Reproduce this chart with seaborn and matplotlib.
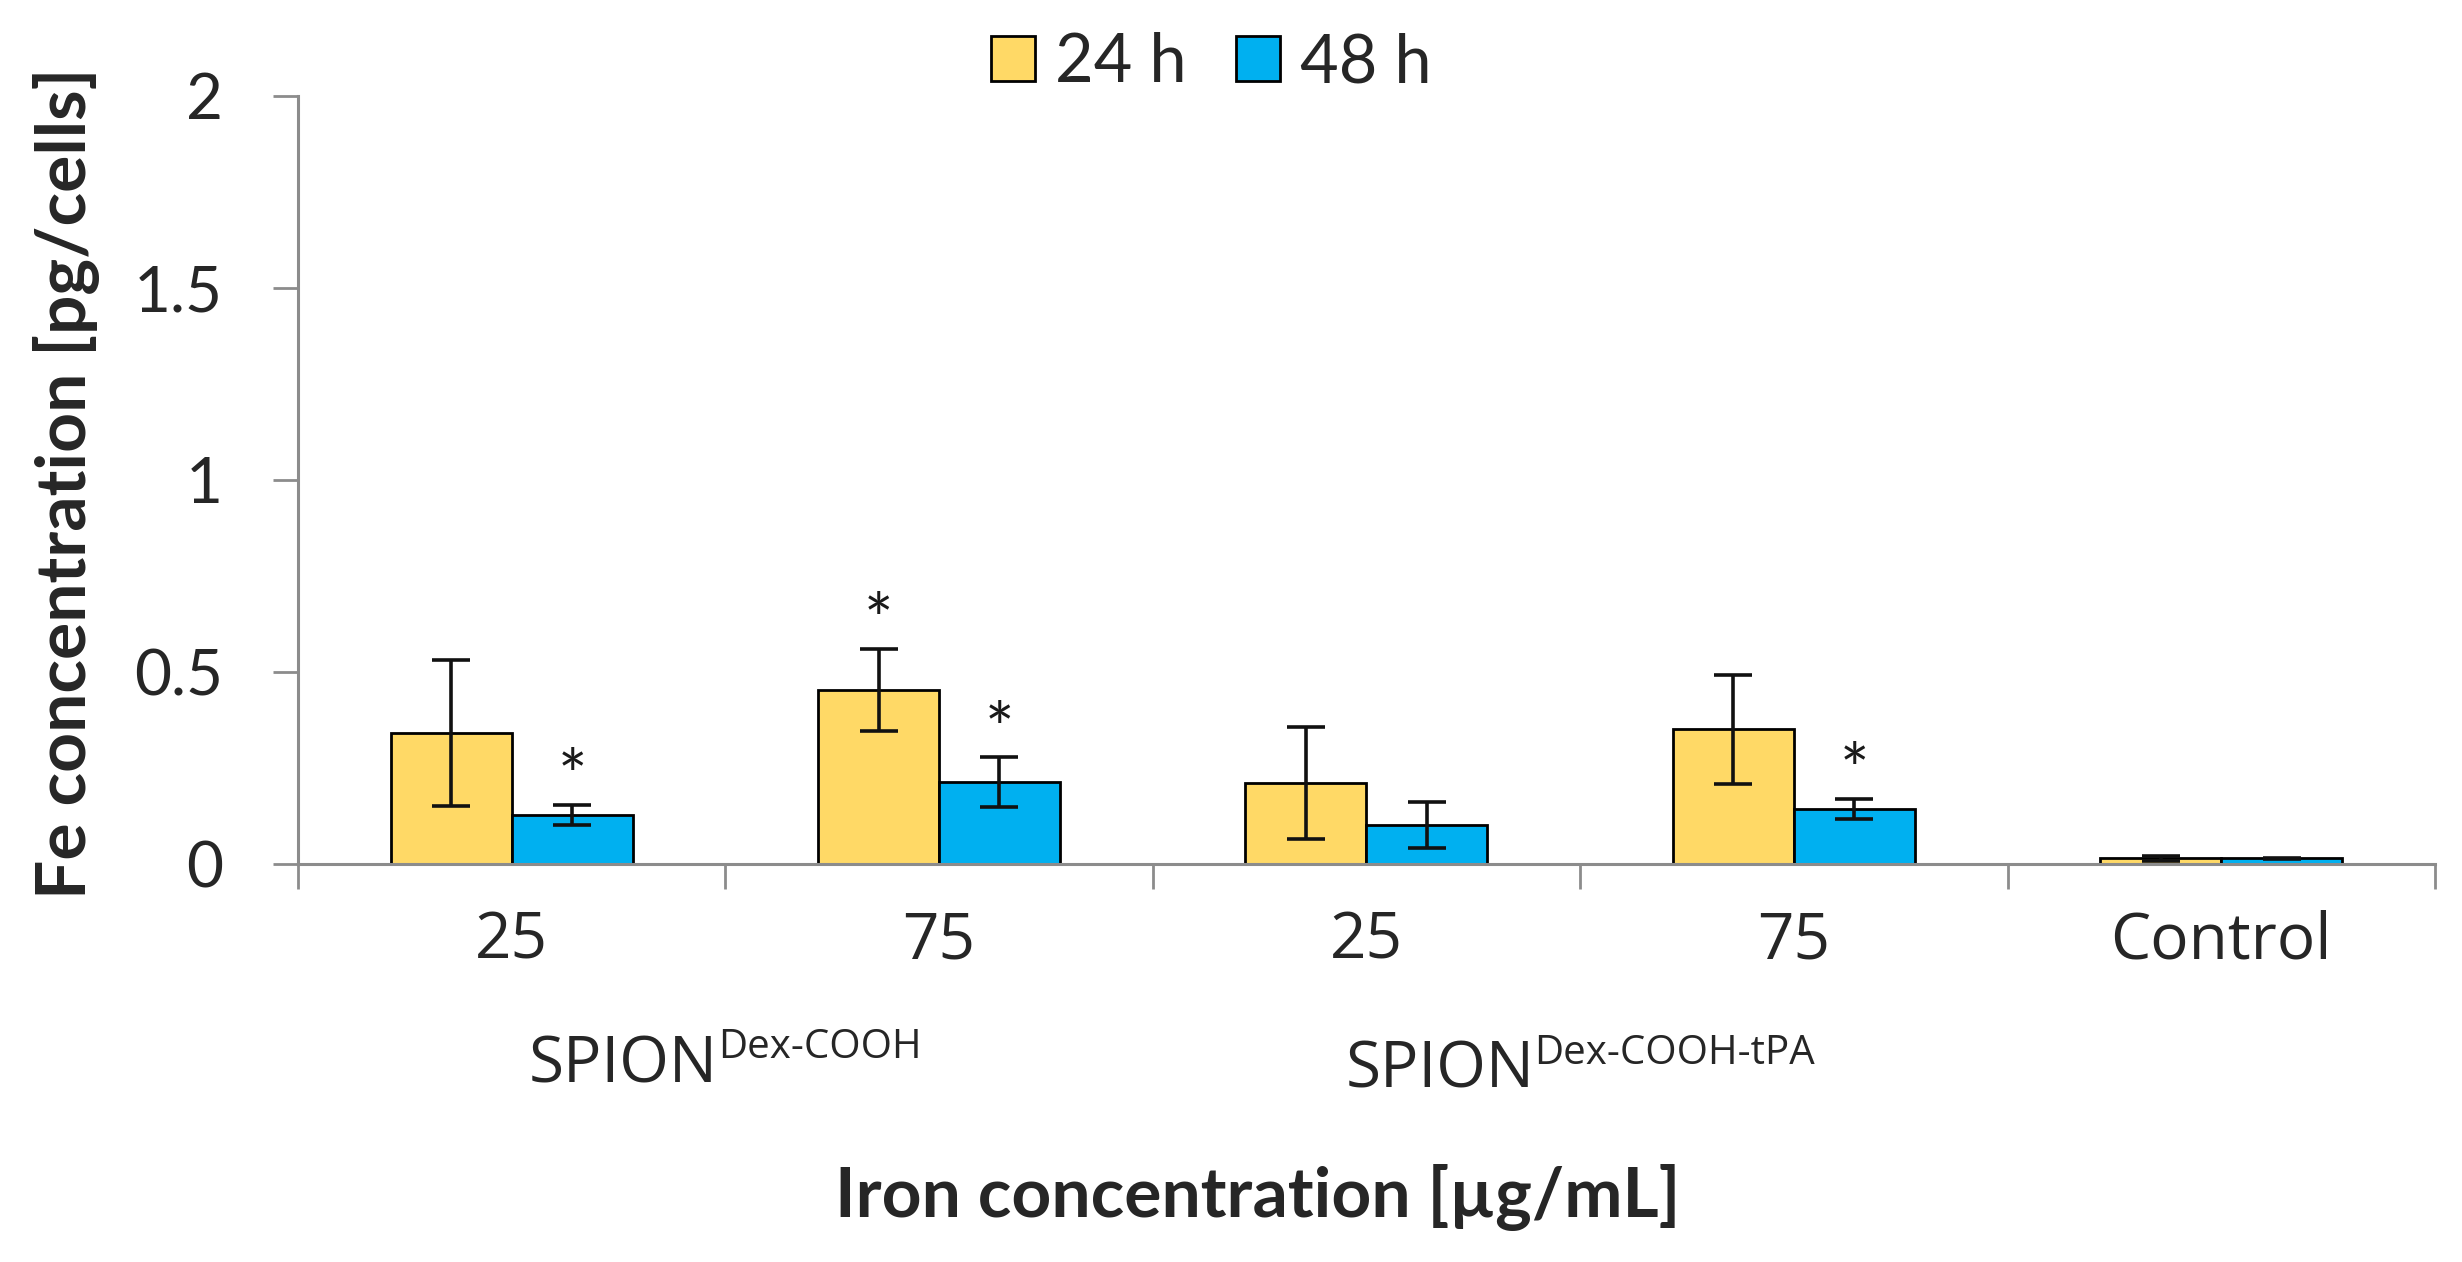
import matplotlib
matplotlib.use("Agg")
import matplotlib.pyplot as plt
import seaborn as sns
import numpy as np
import pandas as pd

# values
groups = ["SD25", "SD75", "ST25", "ST75", "Control"]
tick_labels = ["25", "75", "25", "75", "Control"]
times = ["24 h", "48 h"]
mean_24h = [0.342, 0.453, 0.211, 0.351, 0.015]
err_24h = [0.190, 0.108, 0.146, 0.142, 0.006]
mean_48h = [0.128, 0.213, 0.102, 0.143, 0.015]
err_48h = [0.026, 0.065, 0.060, 0.026, 0.001]
# which bars carry a significance star
star_24h = [False, True, False, False, False]
star_48h = [True, True, False, True, False]
subgroup_names = [("SPION", "Dex-COOH"), ("SPION", "Dex-COOH-tPA")]

df = pd.DataFrame({
    "group": groups * 2,
    "time": [times[0]] * 5 + [times[1]] * 5,
    "value": mean_24h + mean_48h,
    "err": err_24h + err_48h,
    "star": star_24h + star_48h,
})

sns.set_style("white")
plt.rcParams["font.family"] = ["Lato", "DejaVu Sans"]
side_font = ["Open Sans", "DejaVu Sans"]

yellow = "#FFD966"
blue = "#00B0F0"
gray = "#8C8C8C"

fig = plt.figure(figsize=(24.62, 12.62), dpi=100)
ax = fig.add_axes([0.121, 0.3154, 0.868, 0.6086])

sns.barplot(data=df, x="group", y="value", hue="time", order=groups,
            hue_order=times, palette=[yellow, blue], saturation=1,
            width=0.566, edgecolor="black", linewidth=2.0, errorbar=None, ax=ax)

# error bars and stars at the bar centres
for bars, t in zip(ax.containers, times):
    sub = df[df["time"] == t].set_index("group").loc[groups]
    for bar, (_, row) in zip(bars, sub.iterrows()):
        cx = bar.get_x() + bar.get_width() / 2
        ax.errorbar(cx, row["value"], yerr=row["err"], fmt="none",
                    ecolor="#111111", elinewidth=2.6, capsize=14, capthick=2.6)
        if row["star"]:
            ax.text(cx, row["value"] + row["err"] + 0.012, "*", ha="center",
                    va="baseline", fontsize=50, color="#1a1a1a")

ax.set_ylim(0, 2)
ax.set_xlim(-0.5, 4.5)
ax.set_yticks([0, 0.5, 1, 1.5, 2])
ax.set_yticklabels(["0", "0.5", "1", "1.5", "2"])
ax.tick_params(axis="y", which="major", length=18, width=2, color=gray,
               pad=36, labelsize=46, direction="out", left=True)
ax.set_xticks(range(len(groups)))
ax.set_xticklabels(tick_labels, fontfamily=side_font, fontsize=46)
ax.tick_params(axis="x", which="major", length=0, pad=33)
ax.set_xticks(np.arange(-0.5, 5, 1), minor=True)
ax.tick_params(axis="x", which="minor", length=18, width=2, color=gray,
               direction="out", bottom=True)
for side in ["top", "right"]:
    ax.spines[side].set_visible(False)
for side in ["left", "bottom"]:
    ax.spines[side].set_color(gray)
    ax.spines[side].set_linewidth(2.2)
ax.set_xlabel("")
ax.set_ylabel("")

# legend at the top
handles, labels = ax.get_legend_handles_labels()
ax.get_legend().remove()
for h in handles:
    h.set_linewidth(2.0)
fig.legend(handles, labels, loc="center", bbox_to_anchor=(0.492, 0.95),
           ncol=2, frameon=False, fontsize=48, handlelength=0.66,
           handleheight=0.66, handletextpad=0.3, columnspacing=0.75)

# axis titles
fig.text(0.027, 0.617, "Fe concentration [pg/cells]", rotation=90,
         ha="center", va="center", fontsize=50, fontweight="bold")
fig.text(0.511, 0.0515, "Iron concentration [\u00b5g/mL]", ha="center",
         va="center", fontsize=50, fontweight="bold")

# subgroup labels with superscripts, centred between their two groups
fig.canvas.draw()
renderer = fig.canvas.get_renderer()
for (main, sup), cx_data, base_fig in zip(subgroup_names, [0.5, 2.5], [0.1426, 0.138]):
    t1 = fig.text(0, base_fig, main, fontfamily=side_font, fontsize=46,
                  ha="left", va="baseline")
    t2 = fig.text(0, base_fig, sup, fontfamily=side_font, fontsize=29,
                  ha="left", va="baseline")
    w1 = t1.get_window_extent(renderer).width
    w2 = t2.get_window_extent(renderer).width
    cx_px = ax.transData.transform((cx_data, 0))[0]
    left_px = cx_px - (w1 + w2) / 2
    fw = fig.bbox.width
    fh = fig.bbox.height
    t1.set_x(left_px / fw)
    t2.set_x((left_px + w1) / fw)
    t2.set_y(base_fig + 24 / fh)

fig.savefig("out.png", dpi=100)
